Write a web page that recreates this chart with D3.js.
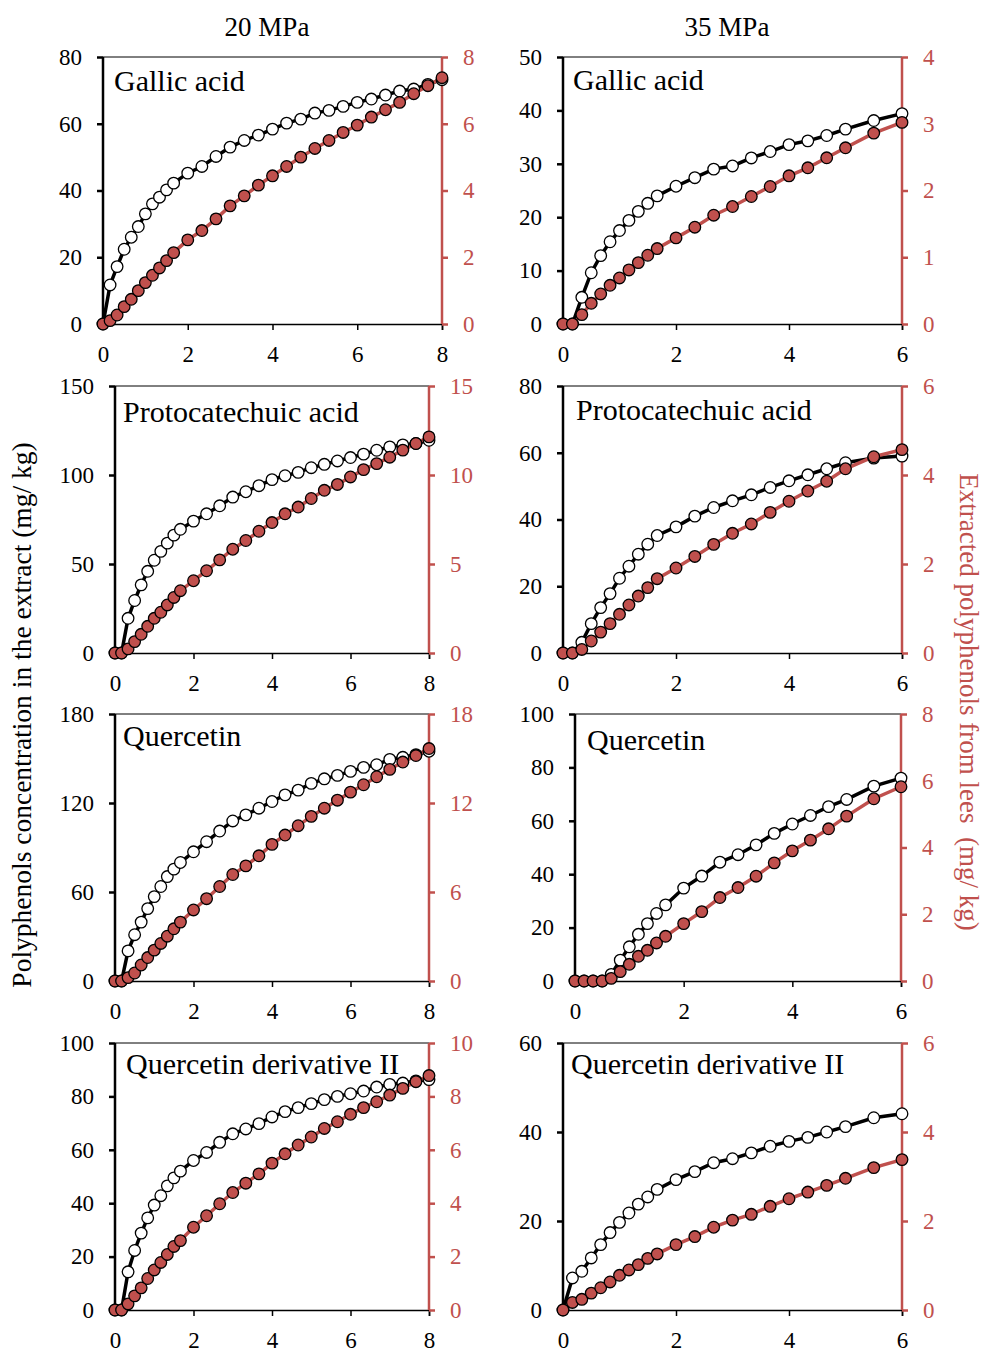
<!DOCTYPE html>
<html>
<head>
<meta charset="utf-8">
<script src="https://cdn.jsdelivr.net/npm/d3@7"></script>
<style>
  body { margin: 0; background: #fff; }
  svg { font-family: "Liberation Serif", "Times New Roman", serif; }
</style>
</head>
<body>
<svg id="chart" width="987" height="1352"></svg>
<script>
// extraction time (h) for the two pressures
var time20 = [0, 0.167, 0.333, 0.5, 0.667, 0.833, 1, 1.167, 1.333, 1.5, 1.667,
  2, 2.333, 2.667, 3, 3.333, 3.667, 4, 4.333, 4.667, 5, 5.333, 5.667, 6,
  6.333, 6.667, 7, 7.333, 7.667, 8];
var time35 = [0, 0.167, 0.333, 0.5, 0.667, 0.833, 1, 1.167, 1.333, 1.5, 1.667,
  2, 2.333, 2.667, 3, 3.333, 3.667, 4, 4.333, 4.667, 5, 5.5, 6];

// concentration in the extract (mg/kg) - left axis, open circles
var gallic20Conc = [0, 11.7, 17.2, 22.4, 26, 29.2, 33, 36, 38, 40.2, 42.2, 45.2, 47.2, 50.2, 53,
  55, 56.6, 58.4, 60.2, 61.4, 63.2, 64, 65.2, 66.4, 67.4, 68.6, 69.8, 70.4, 71.8, 73.2];
var gallic35Conc = [0, 0, 5, 9.6, 12.8, 15.4, 17.5, 19.4, 21.1, 22.6, 24, 25.8, 27.4, 29,
  29.6, 31.1, 32.3, 33.6, 34.3, 35.3, 36.5, 38.1, 39.4];
var proto20Conc = [0, 0, 19.5, 29.5, 38.3, 45.9, 52.1, 57.1, 61.7, 66.2, 69.5, 74.1, 78.2, 82.7,
  87.6, 90.6, 94, 97.4, 99.6, 101.5, 104.1, 106, 107.9, 109.8, 111.7, 113.9, 115.8, 116.9, 117.7, 119.5];
var proto35Conc = [0, 0, 3.2, 8.8, 13.6, 17.8, 22.4, 26, 29.6, 32.6, 35.2, 37.8, 41, 43.6,
  45.6, 47.4, 49.6, 51.6, 53.4, 55.2, 57, 58.4, 59];
var querc20Conc = [0, 0, 20.3, 31.2, 39.7, 48.8, 56.9, 63.7, 70.4, 75.4, 79.9, 87.1, 93.9, 101.1,
  107.9, 112, 116.5, 121, 125.5, 128.7, 133.2, 136.3, 138.6, 141.3, 144, 145.8, 149.4, 150.8, 152.6, 154.9];
var querc35Conc = [0, 0, 0, 0, 2.5, 7.8, 12.8, 17.5, 21.5, 25.3, 28.5, 34.8, 39.3, 44.5,
  47.3, 51, 55.3, 58.8, 62, 65.3, 68, 73, 76];
var qder20Conc = [0, 0, 14.3, 22.3, 28.8, 34.5, 39.3, 42.8, 46.5, 49.5, 52, 56, 59, 62.8,
  66, 67.8, 69.8, 72.3, 74.3, 75.8, 77.3, 78.8, 80, 81, 82, 83.5, 84.5, 85, 85.8, 86.3];
var qder35Conc = [0, 7.2, 8.7, 11.7, 14.7, 17.4, 19.7, 21.8, 23.8, 25.4, 27.1, 29.3, 31.1, 33.1,
  34, 35.3, 36.8, 37.9, 38.8, 40, 41.2, 43.2, 44.1];

// extracted polyphenols from lees (mg/kg) - right axis, red filled circles
var gallic20Lees = [0, 0.1, 0.27, 0.52, 0.74, 1, 1.24, 1.46, 1.68, 1.9, 2.14, 2.52, 2.8, 3.15,
  3.54, 3.84, 4.16, 4.44, 4.72, 5, 5.26, 5.5, 5.74, 5.96, 6.2, 6.42, 6.64, 6.9, 7.14, 7.38];
var gallic35Lees = [0, 0, 0.14, 0.31, 0.45, 0.58, 0.69, 0.81, 0.92, 1.03, 1.13, 1.29, 1.45, 1.63,
  1.76, 1.91, 2.06, 2.22, 2.34, 2.49, 2.64, 2.86, 3.02];
var proto20Lees = [0, 0, 0.23, 0.64, 1.05, 1.5, 1.95, 2.29, 2.7, 3.12, 3.5, 4.06, 4.62, 5.23,
  5.83, 6.32, 6.84, 7.33, 7.82, 8.2, 8.68, 9.14, 9.47, 9.89, 10.3, 10.64, 11, 11.4, 11.77, 12.14];
var proto35Lees = [0, 0, 0.08, 0.27, 0.47, 0.66, 0.87, 1.08, 1.28, 1.47, 1.67, 1.91, 2.17, 2.44,
  2.69, 2.9, 3.16, 3.41, 3.64, 3.86, 4.14, 4.41, 4.57];
var querc20Lees = [0, 0, 0.23, 0.54, 1.08, 1.58, 2.08, 2.53, 3.02, 3.52, 3.97, 4.79, 5.55, 6.37,
  7.18, 7.76, 8.44, 9.21, 9.84, 10.47, 11.1, 11.65, 12.19, 12.73, 13.23, 13.77, 14.27, 14.76, 15.2, 15.67];
var querc35Lees = [0, 0, 0, 0, 0.08, 0.28, 0.5, 0.74, 0.92, 1.14, 1.34, 1.72, 2.08, 2.5,
  2.8, 3.14, 3.54, 3.9, 4.22, 4.56, 4.94, 5.46, 5.82];
var qder20Lees = [0, 0, 0.23, 0.53, 0.83, 1.18, 1.5, 1.78, 2.08, 2.38, 2.6, 3.1, 3.53, 3.98,
  4.4, 4.75, 5.1, 5.5, 5.85, 6.18, 6.48, 6.8, 7.05, 7.33, 7.58, 7.8, 8.05, 8.3, 8.55, 8.78];
var qder35Lees = [0, 0.17, 0.24, 0.38, 0.5, 0.63, 0.78, 0.9, 1.02, 1.16, 1.26, 1.47, 1.65, 1.86,
  2.02, 2.15, 2.33, 2.5, 2.65, 2.8, 2.96, 3.2, 3.38];

var pressures = ["20 MPa", "35 MPa"];
var compounds = ["Gallic acid", "Protocatechuic acid", "Quercetin", "Quercetin derivative II"];

// tick labels for each panel (left axis, right axis) and x axes
var leftTicks = [[0, 20, 40, 60, 80], [0, 10, 20, 30, 40, 50], [0, 50, 100, 150], [0, 20, 40, 60, 80],
  [0, 60, 120, 180], [0, 20, 40, 60, 80, 100], [0, 20, 40, 60, 80, 100], [0, 20, 40, 60]];
var rightTicks = [[0, 2, 4, 6, 8], [0, 1, 2, 3, 4], [0, 5, 10, 15], [0, 2, 4, 6],
  [0, 6, 12, 18], [0, 2, 4, 6, 8], [0, 2, 4, 6, 8, 10], [0, 2, 4, 6]];
var xTicks20 = [0, 2, 4, 6, 8];
var xTicks35 = [0, 2, 4, 6];

var red = "#c0504d";
var svg = d3.select("#chart");
var fmt = d3.format("d");

// plot rectangles (left, right, top, bottom) and title offsets
var boxes = [
  {x0: 103, x1: 442, y0: 57, y1: 324, tx: 11, ty: 34},
  {x0: 563, x1: 902, y0: 57, y1: 324, tx: 10, ty: 33},
  {x0: 115, x1: 429, y0: 386, y1: 653, tx: 8, ty: 36},
  {x0: 563, x1: 902, y0: 386, y1: 653, tx: 13, ty: 34},
  {x0: 115, x1: 429, y0: 714, y1: 981, tx: 8, ty: 32},
  {x0: 575, x1: 901, y0: 714, y1: 981, tx: 12, ty: 36},
  {x0: 115, x1: 429, y0: 1043, y1: 1310, tx: 11, ty: 31},
  {x0: 563, x1: 902, y0: 1043, y1: 1310, tx: 8, ty: 31}
];

var concs = [gallic20Conc, gallic35Conc, proto20Conc, proto35Conc, querc20Conc, querc35Conc, qder20Conc, qder35Conc];
var lees = [gallic20Lees, gallic35Lees, proto20Lees, proto35Lees, querc20Lees, querc35Lees, qder20Lees, qder35Lees];

boxes.forEach(function(b, i) {
  var col = i % 2, row = Math.floor(i / 2);
  var time = col === 0 ? time20 : time35;
  var xt = col === 0 ? xTicks20 : xTicks35;
  var lt = leftTicks[i], rt = rightTicks[i];

  var x = d3.scaleLinear().domain([0, xt[xt.length - 1]]).range([b.x0, b.x1]);
  var yL = d3.scaleLinear().domain([0, lt[lt.length - 1]]).range([b.y1, b.y0]);
  var yR = d3.scaleLinear().domain([0, rt[rt.length - 1]]).range([b.y1, b.y0]);

  var g = svg.append("g").attr("class", "panel");

  // thin top border
  g.append("line")
    .attr("x1", b.x0).attr("x2", b.x1).attr("y1", b.y0).attr("y2", b.y0)
    .attr("stroke", "#000").attr("stroke-width", 1);

  // bottom axis
  var xa = g.append("g").attr("transform", "translate(0," + b.y1 + ")")
    .call(d3.axisBottom(x).tickValues(xt).tickFormat(fmt).tickSize(6).tickPadding(16));
  xa.attr("font-family", null).attr("font-size", 23);
  xa.select(".domain").attr("stroke-width", 1.5);
  xa.selectAll("line").attr("stroke-width", 1.5);
  xa.selectAll("text").attr("fill", "#000");

  // left axis
  var ya = g.append("g").attr("transform", "translate(" + b.x0 + ",0)")
    .call(d3.axisLeft(yL).tickValues(lt).tickFormat(fmt).tickSize(6).tickPadding(15));
  ya.attr("font-family", null).attr("font-size", 23);
  ya.select(".domain").attr("stroke-width", 2.5).attr("d", "M0," + b.y1 + "V" + b.y0);
  ya.selectAll("line").attr("stroke-width", 2.5);
  ya.selectAll("text").attr("fill", "#000");

  // right axis (red)
  var ra = g.append("g").attr("transform", "translate(" + b.x1 + ",0)")
    .call(d3.axisRight(yR).tickValues(rt).tickFormat(fmt).tickSize(6).tickPadding(15));
  ra.attr("font-family", null).attr("font-size", 23);
  ra.select(".domain").attr("stroke", red).attr("stroke-width", 2.5).attr("d", "M0," + b.y1 + "V" + b.y0);
  ra.selectAll("line").attr("stroke", red).attr("stroke-width", 2.5);
  ra.selectAll("text").attr("fill", red);

  // lines
  var concLine = d3.line().x(function(d, j) { return x(time[j]); }).y(function(d) { return yL(d); });
  var leesLine = d3.line().x(function(d, j) { return x(time[j]); }).y(function(d) { return yR(d); });

  g.append("path").datum(concs[i]).attr("d", concLine)
    .attr("fill", "none").attr("stroke", "#000").attr("stroke-width", 3.5);
  g.append("path").datum(lees[i]).attr("d", leesLine)
    .attr("fill", "none").attr("stroke", red).attr("stroke-width", 3.5);

  g.selectAll(".conc").data(concs[i]).enter().append("circle")
    .attr("class", "conc")
    .attr("cx", function(d, j) { return x(time[j]); })
    .attr("cy", function(d) { return yL(d); })
    .attr("r", 5.8)
    .attr("fill", "#fff").attr("stroke", "#000").attr("stroke-width", 1.3);

  g.selectAll(".lees").data(lees[i]).enter().append("circle")
    .attr("class", "lees")
    .attr("cx", function(d, j) { return x(time[j]); })
    .attr("cy", function(d) { return yR(d); })
    .attr("r", 5.8)
    .attr("fill", red).attr("stroke", "#000").attr("stroke-width", 1.3);

  // compound name
  g.append("text")
    .attr("x", b.x0 + b.tx).attr("y", b.y0 + b.ty)
    .attr("font-size", 30).attr("fill", "#000")
    .text(compounds[row]);
});

// column headers
svg.selectAll(".colhead").data(pressures).enter().append("text")
  .attr("class", "colhead")
  .attr("x", function(d, i) { return i === 0 ? 267 : 727; })
  .attr("y", 36)
  .attr("text-anchor", "middle")
  .attr("font-size", 27)
  .text(function(d) { return d; });

// axis titles
svg.append("text")
  .attr("transform", "translate(31,715) rotate(-90)")
  .attr("text-anchor", "middle")
  .attr("font-size", 27.5)
  .text("Polyphenols concentration in the extract (mg/ kg)");

svg.append("text")
  .attr("transform", "translate(960,702) rotate(90)")
  .attr("text-anchor", "middle")
  .attr("font-size", 27)
  .attr("fill", red)
  .style("white-space", "pre")
  .text("Extracted polyphenols from lees  (mg/ kg)");
</script>
</body>
</html>
